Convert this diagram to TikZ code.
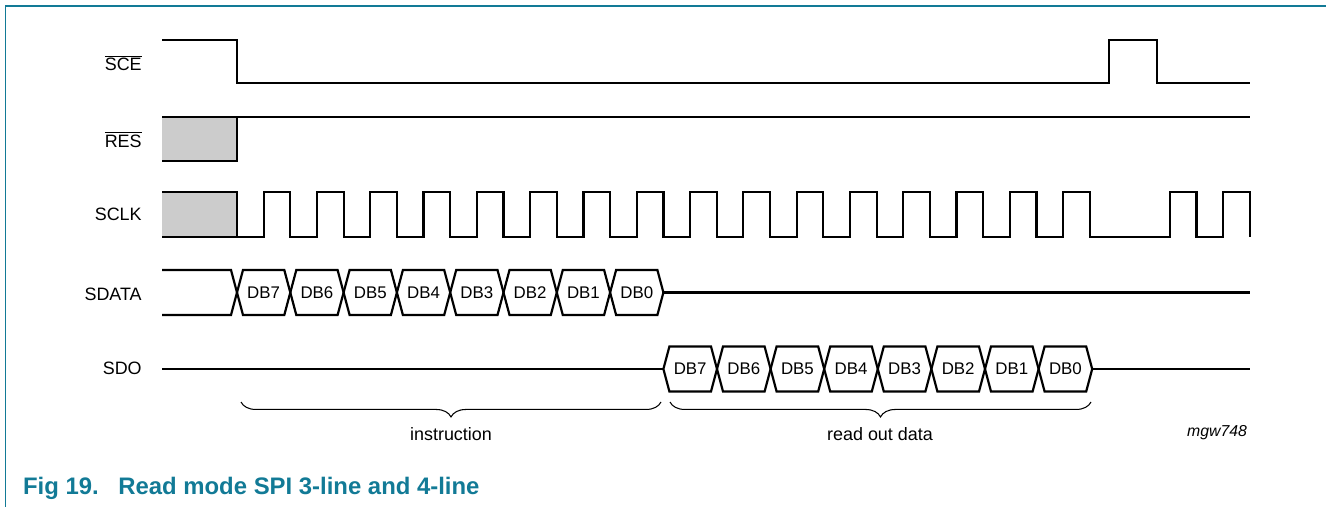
\documentclass[tikz,border=0pt]{standalone}
\usepackage{fontspec}
\setmainfont{Liberation Sans}
\usetikzlibrary{decorations.pathreplacing}
\definecolor{nxpteal}{RGB}{18,122,150}
\definecolor{undefgrey}{RGB}{204,204,204}
\tikzset{
  sig/.style={line width=1.25pt, line join=miter},
  brc/.style={decorate, decoration={brace, mirror, amplitude=8.5pt}, line width=0.6pt},
  lbl/.style={anchor=base east, inner sep=0pt, font=\fontsize{10.2}{12}\selectfont},
  dbtxt/.style={inner sep=0pt, font=\fontsize{9.6}{11}\selectfont},
  note/.style={inner sep=0pt, font=\fontsize{10.2}{12}\selectfont},
}
\begin{document}
\begin{tikzpicture}[x=0.02cm, y=-0.02cm]
    \useasboundingbox (0,0) rectangle (1326,507);
    % Draw the frame, left and top
    \draw[nxpteal, line width=0.85pt] (5.5,507) -- (5.5,6) -- (1326,6);

    % Signal names
    \node[lbl] (sce) at (142,71) {$\overline{\mbox{SCE}}$};
    \node[lbl] (res) at (142,147) {$\overline{\mbox{RES}}$};
    \node[lbl] (sclk) at (142,220.5) {SCLK};
    \node[lbl] (sdata) at (142,300) {SDATA};
    \node[lbl] (sdo) at (142,374.5) {SDO};

    % Chip enable, with the short high pulse at the end
    \draw[sig] (162,40) -- (237,40) -- (237,83) -- (1109,83) -- (1109,40)
        -- (1157,40) -- (1157,83) -- (1250,83);

    % Reset, undefined before the first edge
    \fill[undefgrey] (162,117) rectangle (237,161);
    \draw[sig] (162,161) -- (237,161) -- (237,117);
    \draw[sig] (162,117) -- (1250,117);

    % Clock, 16 pulses then two more
    \fill[undefgrey] (162,192) rectangle (237,237);
    \draw[sig] (162,192) -- (237,192) -- (237,237);
    \draw[sig] (162,237) -- (237,237)
        \foreach \k in {0,...,15,17,18} {
            -- ({263.65+53.3*\k},237) -- ++(0,-45) -- ++(26.65,0) -- ++(0,45)
        };

    % Data in: instruction bits
    \draw[sig] (162,270) -- (231,270) -- (237,292.5) -- (231,315) -- (162,315);
    \foreach \i in {0,...,7} {
        \pgfmathsetmacro\xa{237+53.3*\i}
        \pgfmathsetmacro\xb{\xa+53.3}
        \pgfmathtruncatemacro\b{7-\i}
        \draw[sig] (\xa,292.5) -- (\xa+6,270) -- (\xb-6,270) -- (\xb,292.5)
            -- (\xb-6,315) -- (\xa+6,315) -- cycle;
        \node[dbtxt] (in\b) at ({(\xa+\xb)/2},292.5) {DB\b};
    }
    \draw[sig] (663.4,292.5) -- (1250,292.5);

    % Data out: read back bits
    \draw[sig] (162,369) -- (663.4,369);
    \foreach \i in {0,...,7} {
        \pgfmathsetmacro\xa{663.4+53.6*\i}
        \pgfmathsetmacro\xb{\xa+53.6}
        \pgfmathtruncatemacro\b{7-\i}
        \draw[sig] (\xa,369) -- (\xa+6,346.5) -- (\xb-6,346.5) -- (\xb,369)
            -- (\xb-6,391.5) -- (\xa+6,391.5) -- cycle;
        \node[dbtxt] (out\b) at ({(\xa+\xb)/2},369) {DB\b};
    }
    \draw[sig] (1092.2,369) -- (1250,369);

    % Braces and their names
    \draw[brc] (241,402) -- (661,402);
    \draw[brc] (670,402) -- (1091,402);
    \node[note] (instr) at (451,434) {instruction};
    \node[note] (rdout) at (880,434) {read out data};
    \node[inner sep=0pt, font=\fontsize{9}{11}\selectfont\itshape] (code) at (1217,433) {mgw748};

    % Caption
    \node[anchor=base west, inner sep=0pt, text=nxpteal,
        font=\fontsize{13.6}{16}\selectfont\bfseries] (figno) at (22.7,494.3) {Fig 19.};
    \node[anchor=base west, inner sep=0pt, text=nxpteal,
        font=\fontsize{13.6}{16}\selectfont\bfseries] (figtitle) at (118,494.3) {Read mode SPI 3-line and 4-line};
\end{tikzpicture}
\end{document}
